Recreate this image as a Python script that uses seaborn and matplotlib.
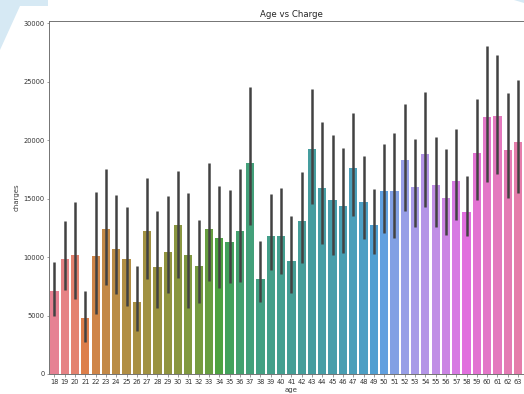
import matplotlib
matplotlib.use("Agg")
import matplotlib.pyplot as plt
import seaborn as sns
import pandas as pd
from matplotlib.patches import Polygon

ages = list(range(18, 65))
mean_charges = [7130, 9800, 10160, 4800, 10070, 12440, 10670, 9870, 6150, 12200,
                9120, 10470, 12750, 10220, 9250, 12380, 11640, 11330, 12210, 18020,
                8140, 11790, 11790, 9680, 13100, 19250, 15870, 14860, 14360, 17650,
                14680, 12710, 15680, 15680, 18300, 16030, 18780, 16170, 15060, 16500,
                13890, 18900, 21980, 22050, 19200, 19870, 23270]
ci_low = [4960, 7190, 6420, 2740, 5100, 7610, 6810, 5820, 3680, 8100,
          5650, 6900, 8180, 5620, 6100, 7960, 7390, 7760, 7900, 12750,
          6190, 8900, 8550, 6960, 9470, 14510, 11090, 10150, 10380, 13540,
          11580, 10270, 12060, 11600, 13970, 12600, 14260, 12550, 11860, 13170,
          11830, 14860, 16400, 17140, 15080, 15510, 18300]
ci_high = [9600, 13090, 14680, 7130, 15600, 17510, 15280, 14310, 9270, 16740,
           13920, 15230, 17340, 15450, 13170, 18080, 16080, 15740, 17560, 24540,
           11400, 15370, 15880, 13520, 17310, 24350, 21590, 20440, 19300, 22360,
           18650, 15800, 19700, 20620, 23070, 20070, 24150, 20250, 19220, 20990,
           16970, 23500, 28030, 27250, 24000, 25130, 28780]

df = pd.DataFrame({"age": [str(a) for a in ages], "charges": mean_charges})

fig = plt.figure(figsize=(5.24, 3.94), dpi=100)
fig.patch.set_facecolor("white")

# light blue page decoration
fig.patches.append(Polygon([[0, 1], [48/524, 1], [48/524, 1-6/394], [20/524, 1-6/394], [0, 1-50/394]],
                           closed=True, transform=fig.transFigure, facecolor="#d6e9f4",
                           edgecolor="none", zorder=-1))
fig.patches.append(Polygon([[514/524, 1], [1, 1], [1, 1-3/394]], closed=True,
                           transform=fig.transFigure, facecolor="#d6e9f4",
                           edgecolor="none", zorder=-1))

ax = fig.add_axes([49.3/524, 20/394, (533.5-49.3)/524, (374-20.7)/394])
sns.barplot(data=df, x="age", y="charges", hue="age",
            palette=sns.husl_palette(len(ages)), legend=False,
            errorbar=None, ax=ax)
ax.vlines(range(len(ages)), ci_low, ci_high, color=".26", lw=1.8, zorder=3)

ax.set_ylim(0, 30220)
ax.set_xlim(-0.5, len(ages) - 0.5)
ax.set_title("Age vs Charge", fontsize=6.2, pad=3, color="0.15")
ax.set_xlabel("age", fontsize=5, labelpad=2, color="0.25")
ax.set_ylabel("charges", fontsize=5, labelpad=3, color="0.25")
ax.tick_params(labelsize=4.8, length=1.8, width=0.5, pad=1.5, colors="0.45", labelcolor="0.2")
for s in ax.spines.values():
    s.set_color("0.45")
    s.set_linewidth(0.7)

# the last category lies past the picture's right edge, as in the reference
ax.get_xticklabels()[-1].set_visible(False)

fig.savefig("out.png", dpi=100)
